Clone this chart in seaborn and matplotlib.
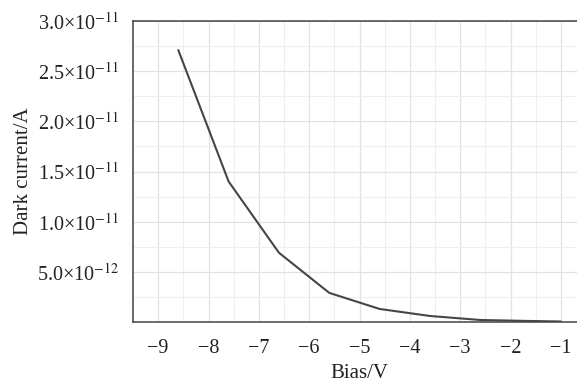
import matplotlib
matplotlib.use("Agg")
import matplotlib.pyplot as plt
from matplotlib.ticker import FixedLocator, MultipleLocator, FuncFormatter
import seaborn as sns
import pandas as pd

# Measured dark current versus reverse bias
bias_v = [-8.6, -7.6, -6.6, -5.6, -4.6, -3.6, -2.6, -1.6, -1.0]
dark_current_a = [2.71e-11, 1.40e-11, 6.9e-12, 2.9e-12, 1.3e-12, 6.0e-13, 2.0e-13, 1.0e-13, 0.5e-13]

x_ticks = [-9, -8, -7, -6, -5, -4, -3, -2, -1]
y_ticks = [5.0e-12, 1.0e-11, 1.5e-11, 2.0e-11, 2.5e-11, 3.0e-11]
y_tick_labels = ["5.0×10$^{-12}$", "1.0×10$^{-11}$", "1.5×10$^{-11}$",
                 "2.0×10$^{-11}$", "2.5×10$^{-11}$", "3.0×10$^{-11}$"]

sns.set_style("white")
plt.rcParams["font.family"] = ["Liberation Serif", "DejaVu Serif"]
plt.rcParams["mathtext.fontset"] = "stix"

df = pd.DataFrame({"Bias/V": bias_v, "Dark current/A": dark_current_a})

fig = plt.figure(figsize=(5.77, 3.85), dpi=100)
ax = fig.add_axes([133 / 577, 63 / 385, 453 / 577, 301 / 385])

sns.lineplot(data=df, x="Bias/V", y="Dark current/A", ax=ax,
             color="#454545", linewidth=1.5)

ax.set_xlim(-9.5, -0.5)
ax.set_ylim(0, 3.0e-11)

ax.xaxis.set_major_locator(FixedLocator(x_ticks))
ax.xaxis.set_major_formatter(FuncFormatter(lambda v, p: f"\u2212{abs(int(round(v)))}"))
ax.xaxis.set_minor_locator(MultipleLocator(0.5))
ax.yaxis.set_major_locator(FixedLocator(y_ticks))
ax.set_yticklabels(y_tick_labels)
ax.yaxis.set_minor_locator(MultipleLocator(2.5e-12))

ax.grid(which="major", color="#e2e2e2", linewidth=0.9)
ax.grid(which="minor", color="#efefef", linewidth=0.8)
ax.set_axisbelow(True)

ax.tick_params(axis="both", which="major", direction="in", length=5, width=1,
               color="#333333", labelsize=14.5, labelcolor="#222222")
ax.tick_params(axis="y", which="major", pad=10)
ax.tick_params(axis="x", which="major", pad=12.5)
ax.tick_params(axis="both", which="minor", length=0)

for side in ["left", "bottom", "top"]:
    ax.spines[side].set_visible(True)
    ax.spines[side].set_color("#444444")
    ax.spines[side].set_linewidth(1.1)
ax.spines["right"].set_visible(False)

ax.set_xlabel("Bias/V", fontsize=15, color="#222222", labelpad=4)
ax.set_ylabel("Dark current/A", fontsize=15, color="#222222", labelpad=3)

fig.savefig("out.png", dpi=100)
